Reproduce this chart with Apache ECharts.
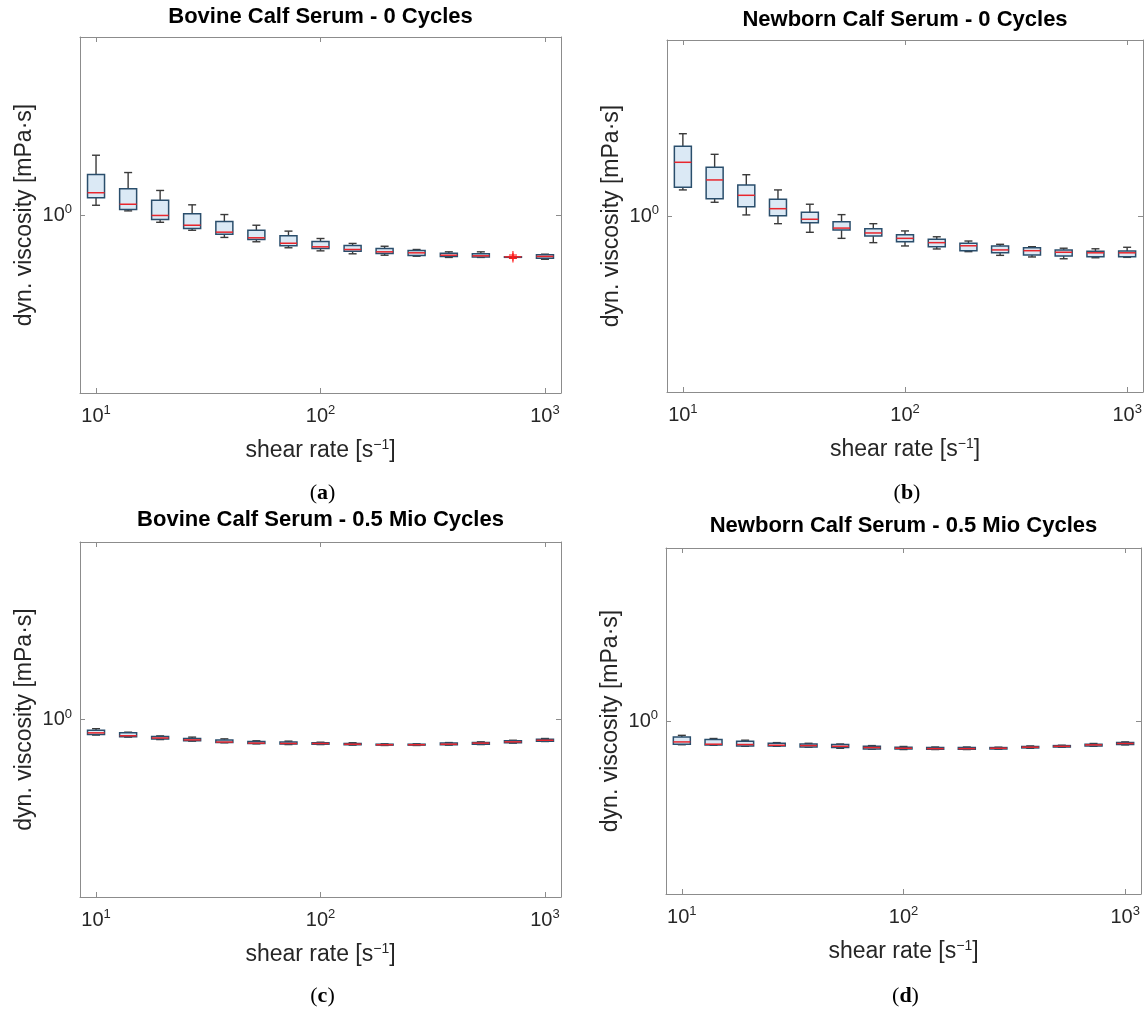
<!DOCTYPE html>
<html>
<head>
<meta charset="utf-8">
<script src="https://cdn.jsdelivr.net/npm/echarts@6/dist/echarts.min.js"></script>
<style>
  html, body { margin: 0; background: #fff; }
  #chart { width: 1147px; height: 1009px; }
</style>
</head>
<body>
<div id="chart"></div>
<script>
const shearRates = [10, 13.9, 19.3, 26.8, 37.3, 51.8, 72, 100, 139, 193, 268, 373, 518, 720, 1000];

// one row per shear rate: [lower whisker, q1, median, q3, upper whisker], mPa·s
const bovine0 = [
  [1.065, 1.118, 1.155, 1.299, 1.472],
  [1.027, 1.036, 1.072, 1.185, 1.316],
  [0.954, 0.971, 0.997, 1.100, 1.172],
  [0.906, 0.917, 0.936, 1.008, 1.068],
  [0.865, 0.883, 0.895, 0.959, 1.003],
  [0.841, 0.853, 0.863, 0.906, 0.936],
  [0.809, 0.820, 0.833, 0.874, 0.901],
  [0.793, 0.805, 0.814, 0.843, 0.859],
  [0.778, 0.791, 0.800, 0.821, 0.832],
  [0.771, 0.780, 0.788, 0.805, 0.817],
  [0.766, 0.770, 0.783, 0.795, 0.800],
  [0.760, 0.765, 0.771, 0.781, 0.788],
  [0.760, 0.762, 0.768, 0.778, 0.788],
  [0.763, 0.763, 0.763, 0.763, 0.763],
  [0.751, 0.756, 0.765, 0.773, 0.776]
];
const bovine0Outliers = [[720, 0.772], [720, 0.763], [720, 0.755]];

const newborn0 = [
  [1.186, 1.206, 1.421, 1.578, 1.713],
  [1.094, 1.120, 1.266, 1.375, 1.497],
  [1.007, 1.063, 1.145, 1.225, 1.310],
  [0.951, 1.002, 1.049, 1.115, 1.186],
  [0.899, 0.957, 0.979, 1.024, 1.080],
  [0.864, 0.912, 0.924, 0.963, 1.009],
  [0.840, 0.877, 0.895, 0.920, 0.951],
  [0.822, 0.845, 0.864, 0.885, 0.907],
  [0.806, 0.818, 0.840, 0.859, 0.873],
  [0.792, 0.797, 0.823, 0.837, 0.849],
  [0.773, 0.786, 0.801, 0.822, 0.831],
  [0.765, 0.775, 0.797, 0.813, 0.818],
  [0.756, 0.770, 0.789, 0.801, 0.810],
  [0.761, 0.766, 0.786, 0.794, 0.807],
  [0.763, 0.766, 0.786, 0.795, 0.815]
];

const bovine05 = [
  [0.904, 0.907, 0.917, 0.933, 0.942],
  [0.892, 0.894, 0.900, 0.917, 0.921],
  [0.878, 0.881, 0.887, 0.896, 0.899],
  [0.869, 0.871, 0.876, 0.884, 0.892],
  [0.860, 0.861, 0.864, 0.876, 0.882],
  [0.854, 0.856, 0.858, 0.867, 0.871],
  [0.850, 0.853, 0.856, 0.864, 0.869],
  [0.850, 0.852, 0.856, 0.860, 0.863],
  [0.847, 0.849, 0.852, 0.856, 0.860],
  [0.845, 0.847, 0.849, 0.852, 0.854],
  [0.845, 0.847, 0.849, 0.852, 0.854],
  [0.847, 0.849, 0.852, 0.858, 0.861],
  [0.850, 0.852, 0.858, 0.861, 0.865],
  [0.858, 0.860, 0.865, 0.871, 0.874],
  [0.867, 0.869, 0.874, 0.880, 0.884]
];

const newborn05 = [
  [0.854, 0.857, 0.870, 0.899, 0.909],
  [0.851, 0.853, 0.857, 0.884, 0.890],
  [0.845, 0.847, 0.855, 0.874, 0.880],
  [0.845, 0.847, 0.851, 0.862, 0.866],
  [0.840, 0.841, 0.849, 0.858, 0.862],
  [0.834, 0.838, 0.845, 0.855, 0.858],
  [0.829, 0.830, 0.838, 0.845, 0.849],
  [0.827, 0.830, 0.834, 0.840, 0.844],
  [0.827, 0.829, 0.832, 0.838, 0.841],
  [0.827, 0.829, 0.832, 0.838, 0.841],
  [0.829, 0.830, 0.834, 0.838, 0.840],
  [0.834, 0.836, 0.840, 0.844, 0.847],
  [0.840, 0.841, 0.845, 0.849, 0.851],
  [0.845, 0.847, 0.853, 0.857, 0.861],
  [0.853, 0.855, 0.861, 0.866, 0.870]
];

const panelTitles = [
  'Bovine Calf Serum - 0 Cycles',
  'Newborn Calf Serum - 0 Cycles',
  'Bovine Calf Serum - 0.5 Mio Cycles',
  'Newborn Calf Serum - 0.5 Mio Cycles'
];
const panelLetters = ['a', 'b', 'c', 'd'];
const panelData = [bovine0, newborn0, bovine05, newborn05];

const FONT = '"Liberation Sans", Arial, sans-serif';
const SERIF = '"Liberation Serif", serif';
const TEXT = '#262626';
const AXIS = '#8c8c8c';

// plot frames in px
const grids = [
  { left: 80, top: 37, width: 481, height: 356 },
  { left: 667, top: 40, width: 476, height: 352 },
  { left: 80, top: 542, width: 481, height: 355 },
  { left: 666, top: 548, width: 475, height: 346 }
];
const titleY = [17, 20, 520, 526];
const letterY = [493, 493, 996, 996];

const X_MIN = Math.pow(10, 1 - 1 / 14);
const X_MAX = Math.pow(10, 3 + 1 / 14);
const Y_MIN = Math.pow(10, -0.5);
const Y_MAX = Math.pow(10, 0.5);

function powLabel(v) {
  const e = Math.log10(v);
  if (Math.abs(e - Math.round(e)) > 1e-6) return '';
  return '10{sup|' + Math.round(e) + '}';
}

const tickRich = { sup: { fontSize: 13, fontFamily: FONT, color: TEXT, padding: [0, 0, 11, 0] } };
const nameRich = { sup: { fontSize: 14, fontFamily: FONT, color: TEXT, padding: [0, 0, 11, 0] } };

function axisBase(type) {
  return {
    type: 'log',
    logBase: 10,
    min: type === 'x' ? X_MIN : Y_MIN,
    max: type === 'x' ? X_MAX : Y_MAX,
    splitLine: { show: false },
    minorTick: { show: false },
    axisLine: { show: true, onZero: false, lineStyle: { color: AXIS, width: 1 } },
    axisTick: { show: true, inside: true, length: 5, lineStyle: { color: AXIS } }
  };
}

const xAxes = [];
const yAxes = [];
grids.forEach((g, i) => {
  xAxes.push(Object.assign(axisBase('x'), {
    gridIndex: i,
    position: 'bottom',
    name: 'shear rate [s{sup|−1}]',
    nameLocation: 'middle',
    nameGap: 45,
    nameTextStyle: { fontSize: 23, fontFamily: FONT, color: TEXT, rich: nameRich },
    axisLabel: { formatter: powLabel, margin: 11, fontSize: 20, fontFamily: FONT, color: TEXT, rich: tickRich }
  }));
  xAxes.push(Object.assign(axisBase('x'), {
    gridIndex: i, position: 'top', axisLabel: { show: false }
  }));
  yAxes.push(Object.assign(axisBase('y'), {
    gridIndex: i,
    position: 'left',
    name: 'dyn. viscosity [mPa·s]',
    nameLocation: 'middle',
    nameGap: 44,
    nameTextStyle: { fontSize: 23, fontFamily: FONT, color: TEXT },
    axisLabel: { formatter: powLabel, margin: 8, fontSize: 20, fontFamily: FONT, color: TEXT, rich: tickRich }
  }));
  yAxes.push(Object.assign(axisBase('y'), {
    gridIndex: i, position: 'right', axisLabel: { show: false }
  }));
});

function renderBox(params, api) {
  const x = api.value(0);
  const lo = api.coord([x, api.value(1)]);
  const q1 = api.coord([x, api.value(2)]);
  const md = api.coord([x, api.value(3)]);
  const q3 = api.coord([x, api.value(4)]);
  const hi = api.coord([x, api.value(5)]);
  const cx = lo[0];
  const hw = 8.5;
  const cw = 4;
  const whisker = { stroke: '#3a3a3a', lineWidth: 1.4 };
  return {
    type: 'group',
    children: [
      { type: 'line', shape: { x1: cx, y1: hi[1], x2: cx, y2: q3[1] }, style: whisker },
      { type: 'line', shape: { x1: cx, y1: q1[1], x2: cx, y2: lo[1] }, style: whisker },
      { type: 'line', shape: { x1: cx - cw, y1: hi[1], x2: cx + cw, y2: hi[1] }, style: whisker },
      { type: 'line', shape: { x1: cx - cw, y1: lo[1], x2: cx + cw, y2: lo[1] }, style: whisker },
      {
        type: 'rect',
        shape: { x: cx - hw, y: q3[1], width: hw * 2, height: Math.max(q1[1] - q3[1], 0.5) },
        style: { fill: '#dbe9f5', stroke: '#2a4e6c', lineWidth: 1.5 }
      },
      { type: 'line', shape: { x1: cx - hw, y1: md[1], x2: cx + hw, y2: md[1] }, style: { stroke: '#e8262d', lineWidth: 1.5 } }
    ]
  };
}

function renderPlus(params, api) {
  const p = api.coord([api.value(0), api.value(1)]);
  const s = 4;
  const st = { stroke: '#ff1a1a', lineWidth: 1.1 };
  return {
    type: 'group',
    children: [
      { type: 'line', shape: { x1: p[0] - s, y1: p[1], x2: p[0] + s, y2: p[1] }, style: st },
      { type: 'line', shape: { x1: p[0], y1: p[1] - s, x2: p[0], y2: p[1] + s }, style: st }
    ]
  };
}

const series = panelData.map((rows, i) => ({
  type: 'custom',
  xAxisIndex: i * 2,
  yAxisIndex: i * 2,
  renderItem: renderBox,
  encode: { x: 0, y: [1, 2, 3, 4, 5] },
  data: rows.map((r, k) => [shearRates[k]].concat(r))
}));
series.push({
  type: 'custom',
  xAxisIndex: 0,
  yAxisIndex: 0,
  renderItem: renderPlus,
  encode: { x: 0, y: 1 },
  data: bovine0Outliers,
  z: 5
});

const graphics = [];
grids.forEach((g, i) => {
  const cx = g.left + g.width / 2;
  graphics.push({
    type: 'text', x: cx, y: titleY[i],
    style: {
      text: panelTitles[i], align: 'center', verticalAlign: 'middle',
      fill: '#000', fontSize: 22, fontWeight: 'bold', fontFamily: FONT
    }
  });
  graphics.push({
    type: 'text', x: cx + 2, y: letterY[i],
    style: {
      text: '({b|' + panelLetters[i] + '})', align: 'center', verticalAlign: 'middle',
      fill: '#000', fontSize: 22, fontFamily: SERIF,
      rich: { b: { fontSize: 22, fontWeight: 'bold', fontFamily: SERIF, fill: '#000' } }
    }
  });
});

const chart = echarts.init(document.getElementById('chart'), null, { renderer: 'canvas' });
chart.setOption({
  backgroundColor: '#fff',
  animation: false,
  grid: grids.map(g => Object.assign({ containLabel: false }, g)),
  xAxis: xAxes,
  yAxis: yAxes,
  series: series,
  graphic: graphics
});
</script>
</body>
</html>
